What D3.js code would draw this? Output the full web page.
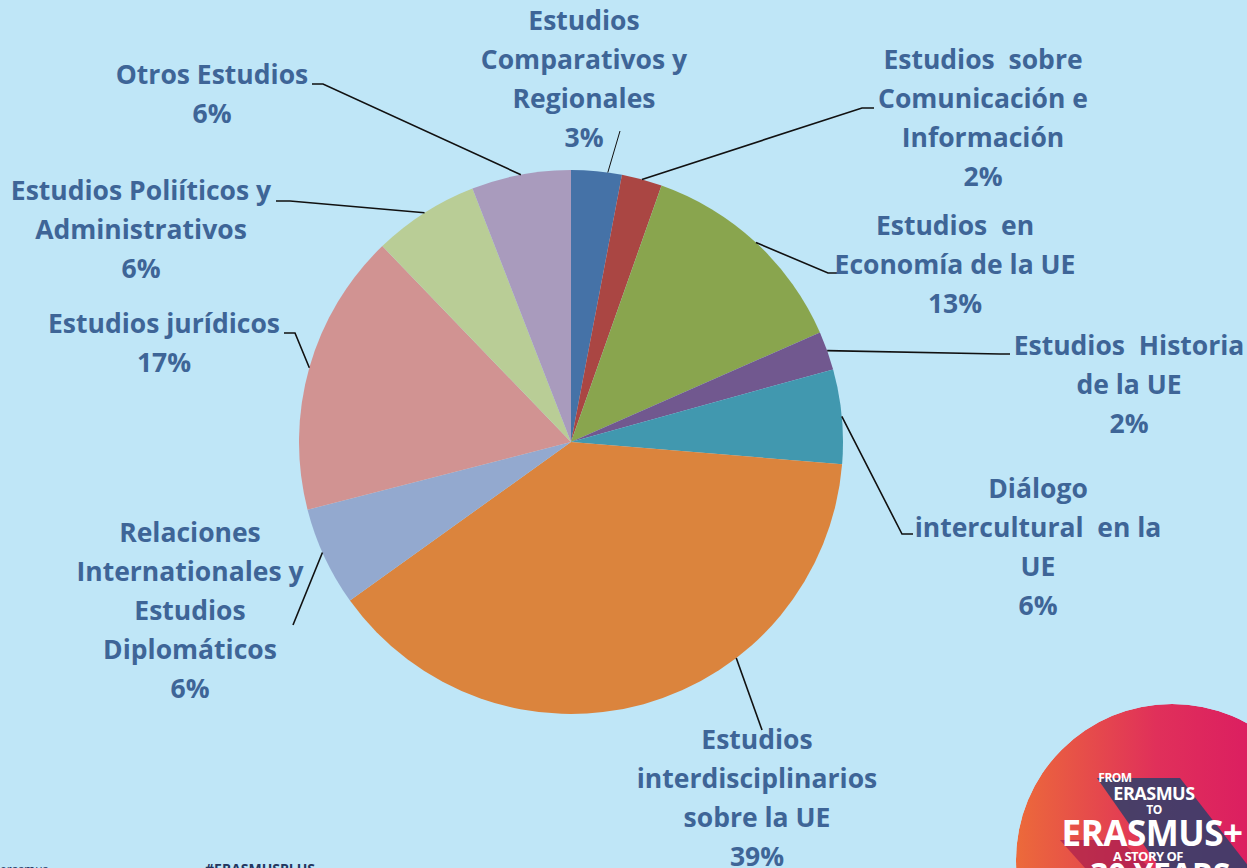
<!DOCTYPE html>
<html>
<head>
<meta charset="utf-8">
<script src="https://cdn.jsdelivr.net/npm/d3@7"></script>
<style>
  html, body { margin: 0; padding: 0; background: #bfe6f7; overflow: hidden; }
  text { white-space: pre; }
</style>
</head>
<body>
<div id="pie-chart"></div>
<script>
// Data, clockwise from 12 o'clock
const categories = [
  "Estudios\nComparativos y\nRegionales",
  "Estudios  sobre\nComunicación e\nInformación",
  "Estudios  en\nEconomía de la UE",
  "Estudios  Historia\nde la UE",
  "Diálogo\nintercultural  en la\nUE",
  "Estudios\ninterdisciplinarios\nsobre la UE",
  "Relaciones\nInternationales y\nEstudios\nDiplomáticos",
  "Estudios jurídicos",
  "Estudios Poliíticos y\nAdministrativos",
  "Otros Estudios"
];
const values = [3.0, 2.4, 13.0, 2.3, 5.6, 38.8, 5.9, 16.8, 6.3, 5.9];
const colors = ["#4572a7", "#aa4643", "#89a54e", "#71588f", "#4198af",
                "#db843d", "#93a9cf", "#d19392", "#b9cd96", "#a99bbd"];

// Label layout: text block centre x, first line y, where the leader touches the slice
// (fraction of slice angle) and the leader's knee / end points
const labelLayout = [
  { x: 584, y: 21, at: 0.72, pts: [[620, 131]] },
  { x: 983, y: 60, at: 0.5, pts: [[862, 108], [874, 108]] },
  { x: 955, y: 226, at: 0.5, pts: [[828, 273], [840, 273]] },
  { x: 1129, y: 346, at: 0.5, pts: [[1000, 354], [1010, 354]] },
  { x: 1038, y: 489, at: 0.5, pts: [[902, 534], [913, 534]] },
  { x: 757, y: 740, at: 0.343, pts: [[762, 730]] },
  { x: 190, y: 533, at: 0.55, pts: [[293, 625]] },
  { x: 164, y: 324, at: 0.5, pts: [[295, 333], [284, 333]] },
  { x: 141, y: 191, at: 0.5, pts: [[290, 201], [276, 201]] },
  { x: 212, y: 75, at: 0.5, pts: [[323, 84], [312, 84]] }
];

const width = 1247, height = 868;
const cx = 571, cy = 442, radius = 272;
const lineGap = 39;
const textColor = "#3e6597";
const fontFamily = "'Open Sans', 'Noto Sans', sans-serif";

const svg = d3.select("#pie-chart")
  .append("svg")
  .attr("width", width)
  .attr("height", height);

svg.append("rect")
  .attr("width", width)
  .attr("height", height)
  .attr("fill", "#bfe6f7");

const total = d3.sum(values);
const pie = d3.pie().sort(null).value(d => d);
const arcs = pie(values);
const arc = d3.arc().innerRadius(0).outerRadius(radius);

const g = svg.append("g").attr("transform", `translate(${cx},${cy})`);

g.selectAll("path.slice")
  .data(arcs)
  .join("path")
  .attr("class", "slice")
  .attr("d", arc)
  .attr("fill", (d, i) => colors[i]);

// Leader lines
arcs.forEach((d, i) => {
  const lay = labelLayout[i];
  const a = d.startAngle + (d.endAngle - d.startAngle) * lay.at;
  const start = [cx + radius * Math.sin(a), cy - radius * Math.cos(a)];
  const path = d3.line()([start, ...lay.pts]);
  svg.append("path")
    .attr("d", path)
    .attr("fill", "none")
    .attr("stroke", "#111")
    .attr("stroke-width", i === 0 ? 1 : 1.6);
});

// Labels
arcs.forEach((d, i) => {
  const lay = labelLayout[i];
  const lines = categories[i].split("\n");
  lines.push(Math.round(values[i] * 100 / total) + "%");
  const t = svg.append("text")
    .attr("text-anchor", "middle")
    .attr("fill", textColor)
    .attr("font-family", fontFamily)
    .attr("font-weight", "bold")
    .attr("font-size", 26.5);
  lines.forEach((ln, j) => {
    t.append("tspan")
      .attr("x", lay.x)
      .attr("y", lay.y + j * lineGap)
      .attr("dy", "0.35em")
      .text(ln);
  });
});

// Logo in the lower right corner
const defs = svg.append("defs");
const grad = defs.append("linearGradient").attr("id", "logo-grad")
  .attr("x1", "0%").attr("x2", "100%").attr("y1", "0%").attr("y2", "0%");
grad.append("stop").attr("offset", "0%").attr("stop-color", "#ec6a3a");
grad.append("stop").attr("offset", "45%").attr("stop-color", "#e0305a");
grad.append("stop").attr("offset", "100%").attr("stop-color", "#d80f66");
defs.append("clipPath").attr("id", "logo-clip")
  .append("circle").attr("cx", 1172).attr("cy", 860).attr("r", 156);

const logo = svg.append("g").attr("clip-path", "url(#logo-clip)");
logo.append("circle").attr("cx", 1172).attr("cy", 860).attr("r", 156)
  .attr("fill", "url(#logo-grad)");
logo.append("path")
  .attr("d", "M1097,778 L1180,778 L1250,868 L1160,868 Z")
  .attr("fill", "#2e3f6b").attr("opacity", 0.85);
logo.append("path")
  .attr("d", "M1060,840 L1120,840 L1150,868 L1085,868 Z")
  .attr("fill", "#a81e4e").attr("opacity", 0.7);

const logoText = [
  { t: "FROM", x: 1115, y: 782, s: 12 },
  { t: "ERASMUS", x: 1154, y: 800, s: 18 },
  { t: "TO", x: 1154, y: 814, s: 12 },
  { t: "ERASMUS+", x: 1152, y: 846, s: 35 },
  { t: "A STORY OF", x: 1148, y: 861, s: 13 },
  { t: "30 YEARS", x: 1160, y: 886, s: 32 }
];
logoText.forEach(o => {
  svg.append("text")
    .attr("x", o.x).attr("y", o.y)
    .attr("text-anchor", "middle")
    .attr("fill", "#fff")
    .attr("font-family", "'Open Sans', sans-serif")
    .attr("font-weight", "bold")
    .attr("font-size", o.s)
    .attr("letter-spacing", -0.5)
    .text(o.t);
});

// Cut-off footer texts
svg.append("text")
  .attr("x", 205).attr("y", 874)
  .attr("fill", "#23365f")
  .attr("font-family", "'Open Sans', sans-serif")
  .attr("font-weight", "bold")
  .attr("font-size", 14)
  .text("#ERASMUSPLUS");
svg.append("text")
  .attr("x", 0).attr("y", 874)
  .attr("fill", "#23365f")
  .attr("font-family", "'Open Sans', sans-serif")
  .attr("font-size", 12)
  .text("erasmus");
</script>
</body>
</html>
